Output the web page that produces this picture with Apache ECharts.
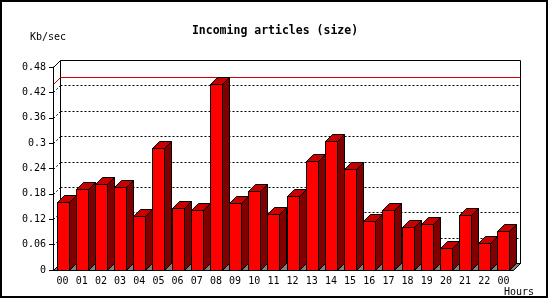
<!DOCTYPE html>
<html>
<head>
<meta charset="utf-8">
<script src="https://cdn.jsdelivr.net/npm/echarts@6/dist/echarts.min.js"></script>
<style>html,body{margin:0;padding:0;background:#fff;}#c{width:550px;height:300px;}</style>
</head>
<body>
<div id="c"></div>
<script>
const categories = ['00','01','02','03','04','05','06','07','08','09','10','11','12','13','14','15','16','17','18','19','20','21','22','00'];
const values = [0.160,0.191,0.203,0.196,0.127,0.288,0.147,0.143,0.439,0.158,0.186,0.132,0.174,0.257,0.305,0.240,0.115,0.143,0.101,0.108,0.051,0.129,0.065,0.092];
const yMin = 0, yMax = 0.48, yStep = 0.06;
const yTicks = [0,0.06,0.12,0.18,0.24,0.3,0.36,0.42,0.48];
const titleText = 'Incoming articles (size)';
const yName = 'Kb/sec';
const xName = 'Hours';

const DX = 7, DY = 7, FRONT_W = 12;
const FONT = 'DejaVu Sans Mono';
const maxVal = Math.max.apply(null, values);

const chart = echarts.init(document.getElementById('c'), null, {renderer:'canvas'});

function px(v) { return Math.round(v) + 0.5; }

function backdrop(params, api) {
  const bw = api.size([1, 0])[0];
  const L = Math.round(api.coord([0, 0])[0] - bw / 2) + 0.5;
  const R = Math.round(api.coord([categories.length - 1, 0])[0] + bw / 2) + 0.5;
  const B = px(api.coord([0, yMin])[1]);
  const T = px(api.coord([0, yMax])[1]);
  const ch = [];
  ch.push({type:'polygon', shape:{points:[[L,B],[R,B],[R+DX,B-DY],[L+DX,B-DY]]},
    style:{fill:'#808080', stroke:'#000', lineWidth:1}});
  ch.push({type:'rect', shape:{x:L+DX, y:T-DY, width:R-L, height:B-T},
    style:{fill:'#fff', stroke:'#000', lineWidth:1}});
  yTicks.forEach(function (t) {
    if (t <= yMin || t >= yMax) return;
    const y = px(api.coord([0, t])[1]);
    ch.push({type:'line', shape:{x1:L+DX, y1:y-DY, x2:R+DX, y2:y-DY},
      style:{stroke:'#000', lineWidth:1, lineDash:[2,2]}});
    ch.push({type:'line', shape:{x1:L, y1:y, x2:L+DX, y2:y-DY},
      style:{stroke:'#000', lineWidth:1, lineDash:[2,2]}});
  });
  ch.push({type:'line', shape:{x1:L, y1:T, x2:L+DX, y2:T-DY}, style:{stroke:'#000', lineWidth:1}});
  ch.push({type:'line', shape:{x1:R, y1:B, x2:R+DX, y2:B-DY}, style:{stroke:'#000', lineWidth:1}});
  const ym = px(api.coord([0, maxVal])[1]);
  ch.push({type:'polyline', shape:{points:[[L,ym],[L+DX,ym-DY],[R+DX,ym-DY]]},
    style:{stroke:'#d00000', lineWidth:1, fill:null}});
  return {type:'group', children:ch};
}

function bar3d(params, api) {
  const i = api.value(0);
  const v = api.value(1);
  const top = api.coord([i, v]);
  const base = api.coord([i, 0]);
  const fl = Math.round(top[0] - FRONT_W / 2) + 0.5;
  const fr = fl + FRONT_W;
  const ty = px(top[1]);
  const by = px(base[1]);
  return {type:'group', children:[
    {type:'polygon', shape:{points:[[fr,ty],[fr+DX,ty-DY],[fr+DX,by-DY],[fr,by]]},
      style:{fill:'#800000', stroke:'#000', lineWidth:1}},
    {type:'polygon', shape:{points:[[fl,ty],[fr,ty],[fr+DX,ty-DY],[fl+DX,ty-DY]]},
      style:{fill:'#c80000', stroke:'#000', lineWidth:1}},
    {type:'rect', shape:{x:fl, y:ty, width:FRONT_W, height:by-ty},
      style:{fill:'#ff0000', stroke:'#000', lineWidth:1}}
  ]};
}

const option = {
  animation: false,
  backgroundColor: '#fff',
  title: {text: titleText, left: 'center', top: 20,
    textStyle: {fontFamily: FONT, fontWeight: 'bold', fontSize: 11.5, color: '#000'}},
  grid: {left: 53, right: 37, top: 67, bottom: 30},
  xAxis: {type: 'category', data: categories, z: 10,
    axisLine: {lineStyle: {color: '#000', width: 1}},
    axisTick: {length: 4, lineStyle: {color: '#000'}},
    axisLabel: {margin: 6, color: '#000', fontFamily: FONT, fontSize: 10, interval: 0},
    splitLine: {show: false}},
  yAxis: {type: 'value', min: yMin, max: yMax, interval: yStep, z: 10,
    axisLine: {show: true, lineStyle: {color: '#000', width: 1}},
    axisTick: {show: true, length: 4, lineStyle: {color: '#000'}},
    axisLabel: {margin: 7, color: '#000', fontFamily: FONT, fontSize: 10},
    splitLine: {show: false}},
  graphic: [
    {type:'rect', shape:{x:1, y:1, width:546, height:296}, style:{fill:null, stroke:'#000', lineWidth:2}, z:100},
    {type:'text', left:30, top:32, style:{text:yName, font:'10px "DejaVu Sans Mono"', fill:'#000'}},
    {type:'text', left:504, top:287, style:{text:xName, font:'10px "DejaVu Sans Mono"', fill:'#000'}}
  ],
  series: [
    {type:'custom', renderItem: backdrop, data: [[0, 0]], clip: false, z: 1, silent: true},
    {type:'custom', renderItem: bar3d, data: values.map(function (v, i) { return [i, v]; }),
      encode: {x: 0, y: 1}, clip: false, z: 2}
  ]
};
chart.setOption(option);
</script>
</body>
</html>
